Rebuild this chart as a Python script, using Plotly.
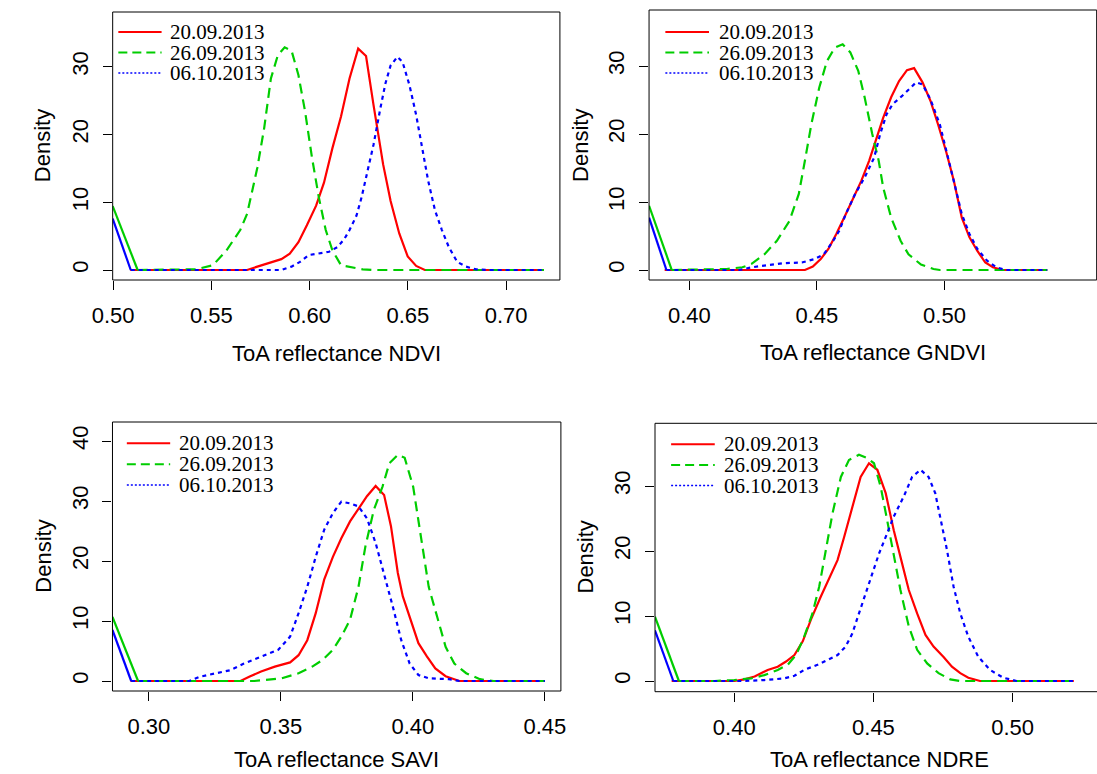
import plotly.graph_objects as go

W, H = 1097, 774

# ---------------- data ----------------
dates = ["20.09.2013", "26.09.2013", "06.10.2013"]
colors = ["#FF0000", "#00CD00", "#0000FF"]
dashes = ["solid", "10px,6px", "4px,4px"]
legend_dashes = ["solid", "9px,5px", "2px,2px"]
legend_widths = [2, 2, 1.6]

titles = ["ToA reflectance NDVI", "ToA reflectance GNDVI",
          "ToA reflectance SAVI", "ToA reflectance NDRE"]

# NDVI
ndvi_red_x = [0.5087, 0.5682, 0.5734, 0.5812, 0.5856, 0.5899, 0.5943, 0.5986, 0.6033, 0.6073, 0.6116, 0.6160, 0.6203, 0.6247, 0.6287, 0.6325, 0.6374, 0.6412, 0.6456, 0.6499, 0.6542, 0.6586, 0.7192]
ndvi_red_y = [0, 0, 0.5, 1.2, 1.6, 2.4, 4.1, 6.6, 9.5, 12.9, 18.0, 22.7, 28.3, 32.7, 31.6, 24.4, 15.6, 10.2, 5.4, 2.0, 0.6, 0, 0]
ndvi_green_x = [0.5125, 0.5420, 0.5508, 0.5577, 0.5647, 0.5682, 0.5734, 0.5769, 0.5803, 0.5838, 0.5873, 0.5908, 0.5943, 0.5977, 0.6012, 0.6047, 0.6082, 0.6116, 0.6160, 0.6200, 0.6270, 0.6325, 0.7192]
ndvi_green_y = [0, 0.1, 0.7, 2.9, 5.9, 8.3, 15.1, 21.0, 28.3, 31.7, 32.9, 32.4, 28.8, 23.4, 16.6, 10.7, 5.9, 2.9, 0.7, 0.5, 0.1, 0, 0]
ndvi_blue_x = [0.5090, 0.5856, 0.5908, 0.5951, 0.5995, 0.6047, 0.6099, 0.6142, 0.6177, 0.6203, 0.6238, 0.6264, 0.6290, 0.6325, 0.6360, 0.6386, 0.6412, 0.6447, 0.6473, 0.6508, 0.6542, 0.6577, 0.6603, 0.6638, 0.6673, 0.6708, 0.6751, 0.6795, 0.6847, 0.6916, 0.7192]
ndvi_blue_y = [0, 0, 0.5, 1.2, 2.2, 2.4, 2.7, 3.4, 4.6, 5.9, 8.0, 10.7, 14.1, 18.5, 23.9, 27.6, 30.2, 31.5, 30.7, 27.3, 22.9, 17.1, 13.2, 8.8, 5.9, 3.4, 1.2, 0.5, 0.1, 0, 0]
ndvi_start_green = ([0.4998, 0.5125], [9.45, 0])
ndvi_start_blue = ([0.4998, 0.5090], [7.6, 0])

# GNDVI
gndvi_red_x = [0.3903, 0.4453, 0.4484, 0.4515, 0.4545, 0.4576, 0.4613, 0.4644, 0.4674, 0.4705, 0.4736, 0.4760, 0.4791, 0.4822, 0.4853, 0.4881, 0.4914, 0.4945, 0.4975, 0.5006, 0.5037, 0.5068, 0.5098, 0.5129, 0.5160, 0.5190, 0.5227, 0.5403]
gndvi_red_y = [0, 0, 0.5, 1.6, 3.1, 5.3, 8.2, 10.7, 13.1, 16.1, 19.5, 22.4, 25.4, 27.8, 29.4, 29.7, 27.6, 24.9, 21.4, 17.5, 13.1, 7.7, 4.8, 2.8, 1.1, 0.4, 0, 0]
gndvi_green_x = [0.3931, 0.4146, 0.4208, 0.4244, 0.4294, 0.4343, 0.4392, 0.4429, 0.4453, 0.4478, 0.4509, 0.4539, 0.4570, 0.4601, 0.4631, 0.4662, 0.4687, 0.4717, 0.4742, 0.4760, 0.4791, 0.4828, 0.4859, 0.4908, 0.4957, 0.4982, 0.5403]
gndvi_green_y = [0, 0.15, 0.4, 0.9, 2.3, 4.3, 7.2, 11.2, 16.1, 21.4, 26.8, 30.7, 32.7, 33.2, 32.0, 29.3, 25.4, 20.0, 16.1, 12.1, 7.7, 4.3, 2.3, 0.8, 0.15, 0, 0]
gndvi_blue_x = [0.3910, 0.4195, 0.4244, 0.4294, 0.4367, 0.4441, 0.4490, 0.4527, 0.4564, 0.4588, 0.4613, 0.4650, 0.4687, 0.4724, 0.4748, 0.4773, 0.4797, 0.4834, 0.4865, 0.4889, 0.4914, 0.4945, 0.4982, 0.5012, 0.5043, 0.5068, 0.5098, 0.5129, 0.5166, 0.5203, 0.5240, 0.5403]
gndvi_blue_y = [0, 0, 0.4, 0.6, 1.0, 1.1, 1.6, 2.3, 4.3, 5.8, 8.2, 11.2, 13.6, 16.5, 20.0, 22.9, 24.4, 25.6, 26.8, 27.6, 27.3, 25.1, 21.4, 17.0, 12.1, 8.2, 5.3, 3.1, 1.4, 0.4, 0, 0]
gndvi_start_green = ([0.3842, 0.3931], [9.45, 0])
gndvi_start_blue = ([0.3842, 0.3910], [7.7, 0])

# SAVI
savi_red_x = [0.2930, 0.3347, 0.3380, 0.3425, 0.3477, 0.3535, 0.3567, 0.3600, 0.3632, 0.3664, 0.3697, 0.3729, 0.3762, 0.3794, 0.3826, 0.3859, 0.3891, 0.3917, 0.3943, 0.3962, 0.3988, 0.4021, 0.4053, 0.4085, 0.4124, 0.4176, 0.4500]
savi_red_y = [0, 0, 0.7, 1.6, 2.4, 3.1, 4.3, 6.8, 11.3, 16.9, 20.7, 23.8, 26.6, 28.8, 30.8, 32.5, 31.0, 25.8, 18.0, 14.1, 10.7, 6.3, 4.1, 2.1, 0.8, 0, 0]
savi_green_x = [0.2959, 0.3399, 0.3503, 0.3567, 0.3619, 0.3658, 0.3697, 0.3729, 0.3762, 0.3794, 0.3820, 0.3852, 0.3885, 0.3911, 0.3943, 0.3969, 0.4001, 0.4027, 0.4060, 0.4092, 0.4124, 0.4157, 0.4202, 0.4254, 0.4306, 0.4500]
savi_green_y = [0, 0, 0.45, 1.3, 2.4, 3.5, 5.2, 7.4, 10.2, 15.7, 22.4, 28.5, 32.4, 36.3, 37.7, 37.2, 32.4, 25.2, 15.7, 10.7, 5.7, 2.9, 1.3, 0.3, 0, 0]
savi_blue_x = [0.2933, 0.3153, 0.3192, 0.3256, 0.3308, 0.3360, 0.3425, 0.3490, 0.3535, 0.3567, 0.3600, 0.3632, 0.3664, 0.3697, 0.3729, 0.3762, 0.3794, 0.3826, 0.3859, 0.3891, 0.3924, 0.3956, 0.3988, 0.4021, 0.4060, 0.4137, 0.4176, 0.4500]
savi_blue_y = [0, 0, 0.7, 1.3, 1.8, 2.9, 4.1, 5.2, 7.4, 11.3, 15.7, 20.7, 25.2, 28.0, 29.9, 29.6, 29.1, 27.1, 23.0, 18.0, 12.4, 6.8, 2.9, 1.0, 0.45, 0.3, 0, 0]
savi_start_green = ([0.2862, 0.2959], [10.7, 0])
savi_start_blue = ([0.2862, 0.2933], [8.5, 0])

# NDRE
ndre_red_x = [0.3775, 0.4000, 0.4037, 0.4073, 0.4120, 0.4156, 0.4186, 0.4216, 0.4246, 0.4275, 0.4311, 0.4347, 0.4371, 0.4395, 0.4424, 0.4454, 0.4484, 0.4514, 0.4544, 0.4573, 0.4597, 0.4627, 0.4657, 0.4687, 0.4716, 0.4752, 0.4782, 0.4812, 0.4841, 0.4883, 0.5220]
ndre_red_y = [0, 0, 0.25, 0.7, 1.7, 2.2, 3.0, 4.0, 6.1, 9.4, 13.0, 16.3, 18.6, 22.2, 26.8, 31.4, 33.5, 32.5, 28.9, 23.2, 19.1, 14.0, 10.4, 7.1, 5.3, 3.7, 2.2, 1.2, 0.5, 0, 0]
ndre_green_x = [0.3801, 0.3930, 0.4000, 0.4061, 0.4108, 0.4156, 0.4192, 0.4222, 0.4251, 0.4281, 0.4305, 0.4329, 0.4353, 0.4383, 0.4412, 0.4448, 0.4478, 0.4502, 0.4526, 0.4549, 0.4573, 0.4597, 0.4627, 0.4657, 0.4693, 0.4734, 0.4776, 0.4812, 0.5220]
ndre_green_y = [0, 0, 0.15, 0.4, 0.9, 1.7, 2.5, 4.0, 6.8, 10.4, 14.5, 20.2, 25.8, 31.4, 34.0, 34.8, 34.3, 33.5, 29.9, 24.8, 19.1, 14.0, 8.4, 4.8, 2.7, 1.2, 0.25, 0, 0]
ndre_blue_x = [0.3781, 0.4037, 0.4108, 0.4180, 0.4216, 0.4251, 0.4299, 0.4335, 0.4371, 0.4400, 0.4424, 0.4448, 0.4472, 0.4496, 0.4520, 0.4549, 0.4573, 0.4609, 0.4639, 0.4669, 0.4698, 0.4722, 0.4740, 0.4764, 0.4788, 0.4812, 0.4841, 0.4877, 0.4919, 0.4967, 0.5014, 0.5220]
ndre_blue_y = [0, 0, 0.15, 0.4, 0.8, 1.7, 2.5, 3.2, 4.0, 5.3, 7.3, 10.4, 13.5, 16.6, 19.6, 22.7, 25.3, 28.4, 31.4, 32.5, 31.4, 28.9, 25.3, 20.2, 14.5, 10.4, 6.8, 3.7, 1.7, 0.5, 0, 0]
ndre_start_green = ([0.3715, 0.3801], [9.9, 0])
ndre_start_blue = ([0.3715, 0.3781], [7.8, 0])

x_ticks = [[0.50, 0.55, 0.60, 0.65, 0.70], [0.40, 0.45, 0.50],
           [0.30, 0.35, 0.40, 0.45], [0.40, 0.45, 0.50]]
y_ticks = [[0, 10, 20, 30], [0, 10, 20, 30], [0, 10, 20, 30, 40], [0, 10, 20, 30]]

series = [
    [(ndvi_red_x, ndvi_red_y), (ndvi_green_x, ndvi_green_y), (ndvi_blue_x, ndvi_blue_y)],
    [(gndvi_red_x, gndvi_red_y), (gndvi_green_x, gndvi_green_y), (gndvi_blue_x, gndvi_blue_y)],
    [(savi_red_x, savi_red_y), (savi_green_x, savi_green_y), (savi_blue_x, savi_blue_y)],
    [(ndre_red_x, ndre_red_y), (ndre_green_x, ndre_green_y), (ndre_blue_x, ndre_blue_y)],
]
starts = [
    [ndvi_start_green, ndvi_start_blue],
    [gndvi_start_green, gndvi_start_blue],
    [savi_start_green, savi_start_blue],
    [ndre_start_green, ndre_start_blue],
]

# ---------------- layout geometry (pixels) ----------------
panels = [
    dict(box=(93.9, 552.0, 12.0, 280.0), xr=(0.4998, 0.72734), yr=(-1.477, 38.11),
         leg=(99.7, 144.0, 151.0, (32.0, 52.5, 73.0)), xtitle_y=353.0, ytitle_x=22.7, bottom=False),
    dict(box=(643.3, 1101.8, 10.0, 280.0), xr=(0.38419, 0.55968), yr=(-1.47, 38.24),
         leg=(660.0, 704.7, 712.4, (32.0, 52.5, 73.0)), xtitle_y=352.0, ytitle_x=572.5, bottom=False),
    dict(box=(93.7, 553.0, 422.0, 691.0), xr=(0.28621, 0.45607), yr=(-1.667, 43.17),
         leg=(108.4, 152.8, 160.2, (443.3, 464.3, 485.0)), xtitle_y=763.0, ytitle_x=22.7, bottom=True),
    dict(box=(649.4, 1108.7, 423.3, 691.7), xr=(0.37152, 0.53263), yr=(-1.646, 39.65),
         leg=(665.9, 710.6, 718.0, (444.3, 465.0, 485.5)), xtitle_y=763.0, ytitle_x=577.7, bottom=True),
]


def px(x):
    return x / W


def py(y):
    return 1 - y / H


fig = go.Figure()
shapes = []
annotations = []
layout_axes = {}

sans = "Liberation Sans, Arial, sans-serif"
serif = "Liberation Serif, Times New Roman, serif"

for i, p in enumerate(panels):
    n = i + 1
    xa = "x" if n == 1 else f"x{n}"
    ya = "y" if n == 1 else f"y{n}"
    L, R, T, B = p["box"]
    x0r, x1r = p["xr"]
    dom_r = min(R, W)
    xr1 = x0r + (x1r - x0r) * (dom_r - L) / (R - L)
    layout_axes["xaxis" if n == 1 else f"xaxis{n}"] = dict(
        domain=[px(L), px(dom_r)], range=[x0r, xr1], anchor=ya,
        tickvals=x_ticks[i], ticktext=[f"{v:.2f}" for v in x_ticks[i]],
        ticks="outside", ticklen=9, tickwidth=1, tickcolor="black",
        showgrid=False, zeroline=False, showline=False,
        tickfont=dict(family=sans, size=22, color="black"),
        ticklabelstandoff=7,
    )
    layout_axes["yaxis" if n == 1 else f"yaxis{n}"] = dict(
        domain=[py(B), py(T)], range=list(p["yr"]), anchor=xa,
        tickvals=y_ticks[i], ticktext=[str(v) for v in y_ticks[i]],
        ticks="outside", ticklen=9, tickwidth=1, tickcolor="black",
        showgrid=False, zeroline=False, showline=False, tickangle=-90,
        tickfont=dict(family=sans, size=22, color="black"),
        ticklabelstandoff=6,
    )
    shapes.append(dict(type="rect", xref="paper", yref="paper",
                       x0=px(L), x1=px(R), y0=py(B), y1=py(T),
                       line=dict(color="black", width=1), layer="above"))
    for k, (xs, ys) in enumerate(series[i]):
        fig.add_trace(go.Scatter(x=xs, y=ys, mode="lines", xaxis=xa, yaxis=ya,
                                 line=dict(color=colors[k], width=2.2, dash=dashes[k]),
                                 showlegend=False, hoverinfo="skip"))
    for k, (xs, ys) in enumerate(starts[i]):
        fig.add_trace(go.Scatter(x=xs, y=ys, mode="lines", xaxis=xa, yaxis=ya,
                                 line=dict(color=colors[k + 1], width=2.2),
                                 showlegend=False, hoverinfo="skip"))
    lx0, lx1, tx, rows = p["leg"]
    for k in range(3):
        shapes.append(dict(type="line", xref="paper", yref="paper",
                           x0=px(lx0), x1=px(lx1), y0=py(rows[k]), y1=py(rows[k]),
                           line=dict(color=colors[k], width=legend_widths[k], dash=legend_dashes[k])))
        annotations.append(dict(text=dates[k], xref="paper", yref="paper",
                                x=px(tx), y=py(rows[k]), xanchor="left", yanchor="middle",
                                showarrow=False, font=dict(family=serif, size=21, color="black")))
    if p["bottom"]:
        annotations.append(dict(text=titles[i], xref="paper", yref="paper",
                                x=px((L + R) / 2), y=0, xanchor="center", yanchor="bottom",
                                showarrow=False, font=dict(family=sans, size=22, color="black")))
    else:
        annotations.append(dict(text=titles[i], xref="paper", yref="paper",
                                x=px((L + R) / 2), y=py(p["xtitle_y"]), xanchor="center", yanchor="middle",
                                showarrow=False, font=dict(family=sans, size=22, color="black")))
    annotations.append(dict(text="Density", xref="paper", yref="paper", textangle=-90,
                            x=px(p["ytitle_x"]), y=py((T + B) / 2), xanchor="center", yanchor="middle",
                            showarrow=False, font=dict(family=sans, size=22, color="black")))

fig.update_layout(
    width=W, height=H, margin=dict(l=0, r=0, t=0, b=0),
    paper_bgcolor="white", plot_bgcolor="white", showlegend=False,
    shapes=shapes, annotations=annotations, **layout_axes,
)

fig.write_html("out.html")
